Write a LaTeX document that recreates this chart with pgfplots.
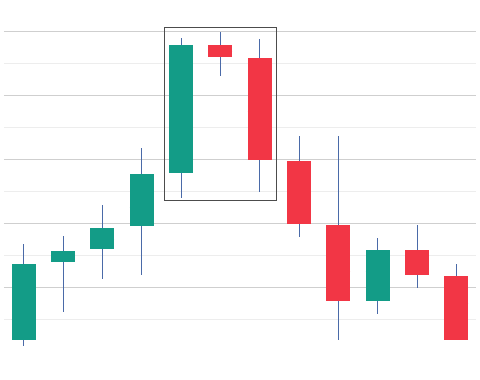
\documentclass[border=0pt]{standalone}
\usepackage{pgfplots}
\pgfplotsset{compat=1.18}
\usepgfplotslibrary{statistics}
\definecolor{up}{HTML}{139C87}
\definecolor{down}{HTML}{F23645}
\definecolor{wick}{HTML}{4A6AA8}
\pgfplotsset{
  up/.style={fill=up, draw=none, boxplot/every box/.style={draw=none, fill=up}},
  down/.style={fill=down, draw=none, boxplot/every box/.style={draw=none, fill=down}},
}
\begin{document}
\begin{tikzpicture}
\path[use as bounding box] (-4pt,0pt) rectangle (476pt,380pt);
\begin{axis}[
  at={(0pt,0pt)}, anchor=south west,
  scale only axis, width=472pt, height=380pt,
  xmin=0.5, xmax=12.5, ymin=-8.75, ymax=110,
  axis line style={draw=none},
  xtick=\empty,
  ytick={20,40,60,80,100}, minor ytick={10,30,50,70,90},
  yticklabels={}, tick style={draw=none},
  ymajorgrids, yminorgrids,
  major grid style={draw=black!19, line width=1pt},
  minor grid style={draw=black!7, line width=1pt},
  boxplot/draw direction=y,
  boxplot/box extend=0.61,
  boxplot/whisker extend=0,
  boxplot/every median/.style={draw=none},
  boxplot/every whisker/.style={draw=wick, fill=none, line width=0.9pt},
]
% candle 1..12 : lower whisker = low, quartiles = body, upper whisker = high
\addplot[up, boxplot prepared={draw position=1, lower whisker=1.9, lower quartile=3.75, median=10, upper quartile=27.5, upper whisker=33.75}] coordinates {};
\addplot[up, boxplot prepared={draw position=2, lower whisker=12.5, lower quartile=28.1, median=30, upper quartile=31.7, upper whisker=36.25}] coordinates {};
\addplot[up, boxplot prepared={draw position=3, lower whisker=22.8, lower quartile=32.2, median=35, upper quartile=38.8, upper whisker=45.9}] coordinates {};
\addplot[up, boxplot prepared={draw position=4, lower whisker=24.1, lower quartile=39.4, median=45, upper quartile=55.6, upper whisker=63.75}] coordinates {};
\addplot[up, boxplot prepared={draw position=5, lower whisker=48.1, lower quartile=55.9, median=70, upper quartile=96.0, upper whisker=98.1}] coordinates {};
\addplot[down, boxplot prepared={draw position=6, lower whisker=86.3, lower quartile=92.2, median=94, upper quartile=96.0, upper whisker=100}] coordinates {};
\addplot[down, boxplot prepared={draw position=7, lower whisker=50, lower quartile=60.1, median=75, upper quartile=91.8, upper whisker=97.9}] coordinates {};
\addplot[down, boxplot prepared={draw position=8, lower whisker=36.0, lower quartile=40, median=50, upper quartile=59.8, upper whisker=67.5}] coordinates {};
\addplot[down, boxplot prepared={draw position=9, lower whisker=3.75, lower quartile=15.8, median=25, upper quartile=39.6, upper whisker=67.5}] coordinates {};
\addplot[up, boxplot prepared={draw position=10, lower whisker=11.9, lower quartile=15.8, median=25, upper quartile=31.8, upper whisker=35.5}] coordinates {};
\addplot[down, boxplot prepared={draw position=11, lower whisker=20, lower quartile=24.0, median=28, upper quartile=31.8, upper whisker=39.8}] coordinates {};
\addplot[down, boxplot prepared={draw position=12, lower whisker=3.75, lower quartile=3.75, median=15, upper quartile=23.7, upper whisker=27.5}] coordinates {};
\draw[black!70, line width=0.9pt] (axis cs:4.57,47.4) rectangle (axis cs:7.43,101.5);
\end{axis}
\end{tikzpicture}
\end{document}
